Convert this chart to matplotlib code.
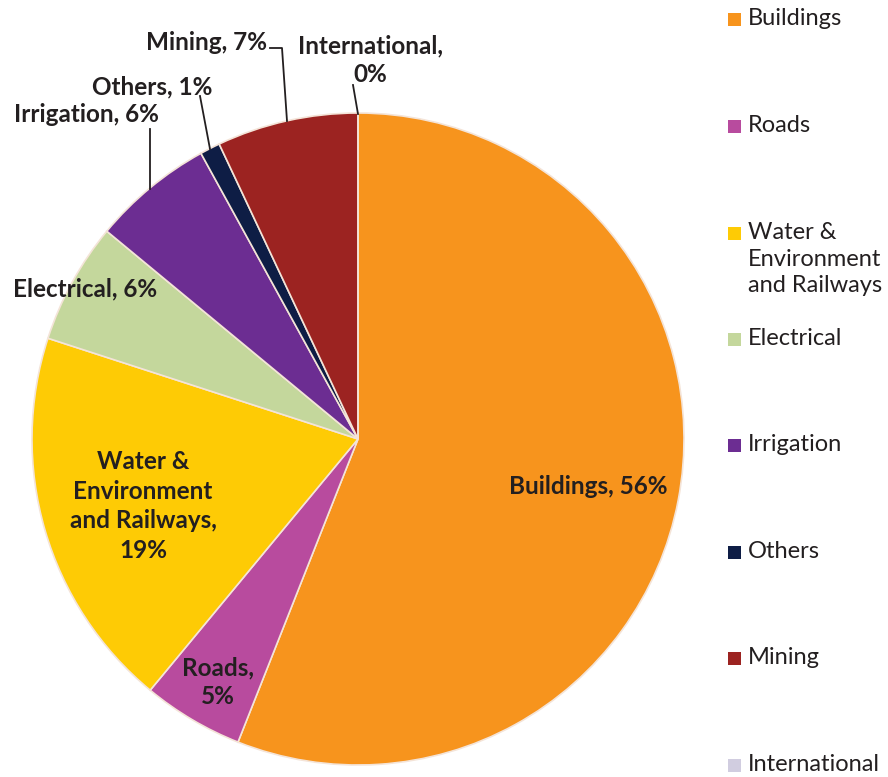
import matplotlib
matplotlib.use("Agg")
import matplotlib.pyplot as plt
from matplotlib.patches import Rectangle

# Share of work by sector (%)
categories = ["Buildings", "Roads", "Water &\nEnvironment\nand Railways", "Electrical",
              "Irrigation", "Others", "Mining", "International"]
values = [56, 5, 19, 6, 6, 1, 7, 0]
colors = ["#F7941D", "#B84B9E", "#FECB05", "#C4D79C", "#6C2D92", "#0E1D45", "#9C2321", "#D1CDE0"]

W, H = 888, 777
fig = plt.figure(figsize=(W / 100, H / 100), dpi=100)
fig.patch.set_facecolor("white")

# Pie: centre (358, 439) px, radius 326 px
cx, cy, r = 358, 439, 326
ax = fig.add_axes([(cx - r) / W, (H - cy - r) / H, 2 * r / W, 2 * r / H])
ax.pie(values, colors=colors, startangle=90, counterclock=False, radius=1.0,
       wedgeprops=dict(edgecolor="#F4E4D8", linewidth=1.2))
ax.set_xlim(-1, 1)
ax.set_ylim(-1, 1)
ax.set_aspect("equal")
ax.axis("off")

# Overlay in pixel coordinates for labels, leaders and legend
ov = fig.add_axes([0, 0, 1, 1], facecolor="none")
ov.set_xlim(0, W)
ov.set_ylim(H, 0)
ov.axis("off")

lab_font = dict(family=["Lato", "DejaVu Sans"], fontweight="bold", fontsize=17.5, color="#231F20")

ov.text(588, 487, f"{categories[0]}, {values[0]}%", ha="center", va="center", **lab_font)
ov.text(218, 682, f"{categories[1]},\n{values[1]}%", ha="center", va="center",
        linespacing=1.3, **lab_font)
ov.text(143, 506, f"{categories[2]},\n{values[2]}%", ha="center",
        va="center", linespacing=1.35, **lab_font)
ov.text(85, 289, f"{categories[3]}, {values[3]}%", ha="center", va="center", **lab_font)
ov.text(86, 115, f"{categories[4]}, {values[4]}%", ha="center", va="center", **lab_font)
ov.text(152, 87, f"{categories[5]}, {values[5]}%", ha="center", va="center", **lab_font)
ov.text(206, 42, f"{categories[6]}, {values[6]}%", ha="center", va="center", **lab_font)
ov.text(370, 60, f"{categories[7]},\n{values[7]}%", ha="center", va="center",
        linespacing=1.28, **lab_font)

# Leader lines
lw = 1.3
ov.plot([150, 150], [129, 189], color="#231F20", lw=lw)
ov.plot([200, 210], [96, 149], color="#231F20", lw=lw)
ov.plot([270, 282, 287], [48, 48, 121], color="#231F20", lw=lw)
ov.plot([353, 358], [85, 114], color="#231F20", lw=lw)

# Legend
leg_y = [19, 126, 233, 339, 445, 552, 658, 765]
for name, col, y in zip(categories, colors, leg_y):
    ov.add_patch(Rectangle((728, y - 6.5), 13, 13, facecolor=col, edgecolor="none"))
    ov.text(748, y - 11, name, ha="left", va="top", family=["Lato", "DejaVu Sans"],
            fontsize=17, color="#231F20", linespacing=1.33)

fig.savefig("out.png", dpi=100, facecolor="white")
